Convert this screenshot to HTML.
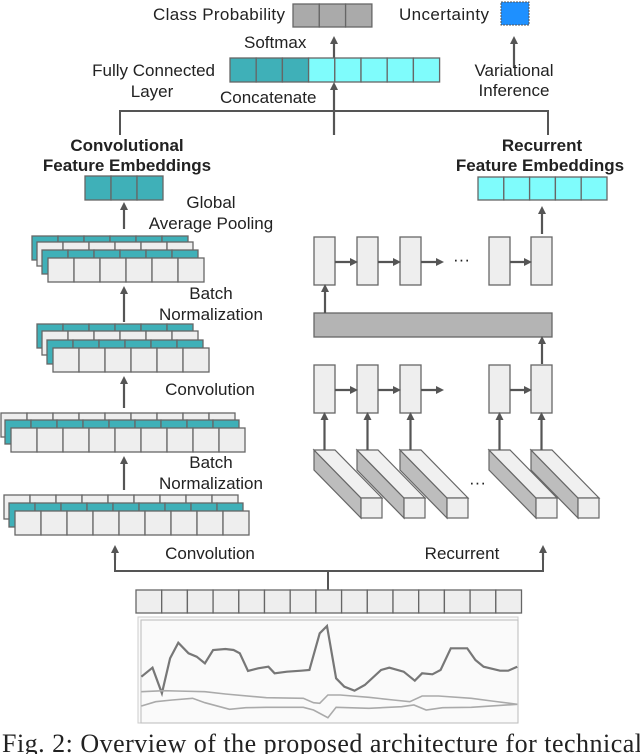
<!DOCTYPE html>
<html><head><meta charset="utf-8"><style>
html,body{margin:0;padding:0;background:#fff;width:640px;height:754px;overflow:hidden}
svg{display:block}
text{font-family:"Liberation Sans",sans-serif;fill:#222}
</style></head><body>
<svg id="s" width="640" height="754" viewBox="0 0 640 754" xmlns="http://www.w3.org/2000/svg">
<defs>
<marker id="a" markerWidth="8" markerHeight="8" refX="4" refY="4" orient="auto" markerUnits="userSpaceOnUse"><path d="M0,0 L8,4 L0,8 z" fill="#555"/></marker>
</defs>
<g id="g"></g>
<g font-size="17">
<text x="153" y="20" textLength="132">Class Probability</text>
<text x="399" y="20" textLength="90">Uncertainty</text>
<text x="244" y="48">Softmax</text>
<text x="215" y="76" text-anchor="end">Fully Connected</text>
<text x="152" y="97" text-anchor="middle">Layer</text>
<text x="220" y="103">Concatenate</text>
<text x="514" y="76" text-anchor="middle">Variational</text>
<text x="514" y="96" text-anchor="middle">Inference</text>
<text x="127" y="151" text-anchor="middle" font-weight="bold">Convolutional</text>
<text x="127" y="171" text-anchor="middle" font-weight="bold">Feature Embeddings</text>
<text x="542" y="151" text-anchor="middle" font-weight="bold">Recurrent</text>
<text x="540" y="171" text-anchor="middle" font-weight="bold">Feature Embeddings</text>
<text x="211" y="208" text-anchor="middle">Global</text>
<text x="211" y="229" text-anchor="middle">Average Pooling</text>
<text x="211" y="299" text-anchor="middle">Batch</text>
<text x="211" y="320" text-anchor="middle">Normalization</text>
<text x="210" y="395" text-anchor="middle">Convolution</text>
<text x="211" y="468" text-anchor="middle">Batch</text>
<text x="211" y="489" text-anchor="middle">Normalization</text>
<text x="210" y="559" text-anchor="middle">Convolution</text>
<text x="462" y="559" text-anchor="middle">Recurrent</text>
<text x="453" y="265">···</text>
<text x="469" y="488">···</text>
</g>
<text x="2" y="752" font-size="26" textLength="640" lengthAdjust="spacing" style="font-family:'Liberation Serif',serif">Fig. 2: Overview of the proposed architecture for technical</text>
</svg>
<script>
const g=document.getElementById('g');const NS='http://www.w3.org/2000/svg';
function el(t,a){const e=document.createElementNS(NS,t);for(const k in a)e.setAttribute(k,a[k]);g.appendChild(e);return e;}
function strip(x,y,n,w,h,fills,st){for(let i=0;i<n;i++){el('rect',{x:x+i*w,y:y,width:w,height:h,fill:Array.isArray(fills)?fills[i]:fills,stroke:st||'#666','stroke-width':1.3});}}
function arr(x1,y1,x2,y2){el('line',{x1,y1,x2,y2,stroke:'#555','stroke-width':2.2,'marker-end':'url(#a)'});}
const T='#3fb0b8',C='#7ffcfc',W='#eeeeee',G='#aaaaaa';
strip(293,4,3,26.3,23,G);
el('rect',{x:501,y:2,width:28,height:23,fill:'#1e90ff',stroke:'#555','stroke-dasharray':'2,1'});
arr(334,68,334,40);arr(514,68,514,40);
strip(230,58,8,26.2,24,[T,T,T,C,C,C,C,C]);
arr(334,135,334,86);
el('polyline',{points:'120,135 120,111 548,111 548,135',fill:'none',stroke:'#555','stroke-width':2});
strip(85,176,3,26,24,T);
strip(478,177,5,25.8,23,C);
arr(124,229,124,206);arr(542,234,542,210);
function stack(layers,n){layers.forEach(([x,y,f])=>strip(x,y,n,26,24,f));}
stack([[32,236,T],[37,242,W],[42,250,T],[48,258,W]],6);
arr(124,322,124,290);
stack([[37,324,T],[42,331,W],[47,340,T],[53,348,W]],6);
arr(124,408,124,380);
stack([[1,413,W],[5,420,T],[11,428,W]],9);
arr(124,490,124,460);
stack([[4,495,W],[9,503,T],[15,511,W]],9);
el('polyline',{points:'115,552 115,571 543,571 543,552',fill:'none',stroke:'#555','stroke-width':2});
arr(115,560,115,549);arr(543,560,543,549);
el('line',{x1:328,y1:571,x2:328,y2:590,stroke:'#555','stroke-width':2});
strip(136,590,15,25.7,23,W);
el('rect',{x:138,y:617,width:380,height:106,fill:'#fafafa',stroke:'#ccc'});
el('rect',{x:141,y:620,width:377,height:103,fill:'#fafafa',stroke:'#bbb'});
function sx(v){return v/2.44;}function sy(v){return 320+v/3;}
const L1=[[345,1070],[372,1043],[395,1120],[415,1015],[435,968],[460,1000],[480,1010],[500,1030],[520,990],[550,987],[570,990],[585,1000],[605,1053],[630,1045],[655,1040],[670,1060],[700,1055],[735,1052],[755,1050],[780,940],[798,918],[820,1075],[840,1100],[865,1112],[890,1095],[930,1050],[950,1043],[985,1055],[1012,1082],[1030,1060],[1055,1063],[1075,1050],[1100,985],[1140,985],[1160,1020],[1180,1040],[1220,1052],[1240,1052],[1262,1040]];
const L2=[[345,1115],[400,1112],[430,1113],[500,1115],[550,1122],[650,1133],[740,1135],[765,1148],[780,1150],[800,1125],[830,1125],[900,1132],[960,1140],[1000,1145],[1030,1128],[1070,1128],[1150,1135],[1200,1143],[1262,1153]];
const L3=[[345,1158],[380,1145],[420,1140],[470,1135],[500,1148],[560,1168],[600,1163],[650,1162],[740,1162],[765,1170],[800,1193],[820,1162],[900,1165],[980,1160],[1010,1155],[1040,1170],[1080,1163],[1150,1162],[1262,1153]];
[[L1,'#777',2.2],[L2,'#aaa',1.6],[L3,'#aaa',1.6]].forEach(([L,c,w])=>el('polyline',{points:L.map(p=>sx(p[0]).toFixed(1)+','+sy(p[1]).toFixed(1)).join(' '),fill:'none',stroke:c,'stroke-width':w}));
const xs=[314,357,400,489,531];
xs.forEach(x=>{el('rect',{x,y:237,width:21,height:48,fill:W,stroke:'#666','stroke-width':1.3});el('rect',{x,y:365,width:21,height:48,fill:W,stroke:'#666','stroke-width':1.3});});
[[335,355],[378,398],[421,441],[510,529]].forEach(([a,b])=>{arr(a,262,b-1,262);arr(a,390,b-1,390);});
el('rect',{x:314,y:313,width:238,height:24,fill:'#b4b4b4',stroke:'#666','stroke-width':1.3});
arr(325,313,325,288);arr(542,364,542,340);
xs.forEach(x=>{
 el('polygon',{points:`${x},450 ${x},470 ${x+47},518 ${x+47},498`,fill:'#bdbdbd',stroke:'#666','stroke-width':1.2});
 el('polygon',{points:`${x},450 ${x+21},450 ${x+68},498 ${x+47},498`,fill:'#f0f0f0',stroke:'#666','stroke-width':1.2});
 el('rect',{x:x+47,y:498,width:21,height:20,fill:'#eee',stroke:'#666','stroke-width':1.2});
 arr(x+10.5,450,x+10.5,416);
});
</script>
</body></html>
